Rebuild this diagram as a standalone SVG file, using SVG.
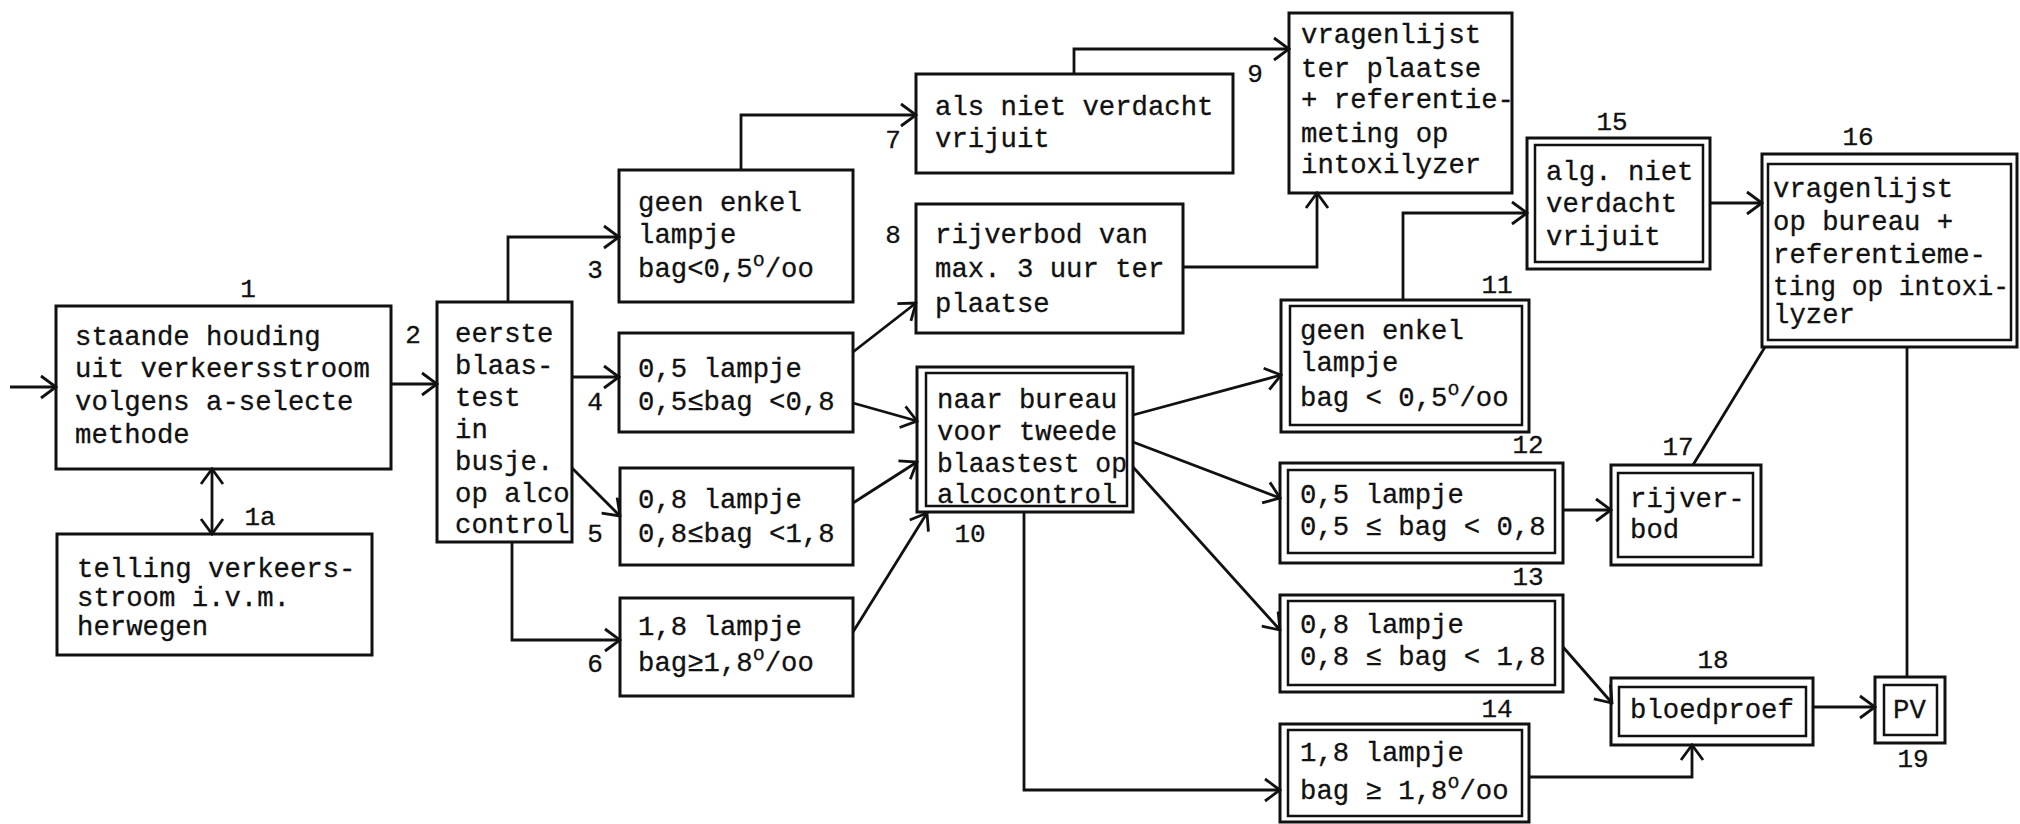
<svg xmlns="http://www.w3.org/2000/svg" width="2020" height="824" viewBox="0 0 2020 824">
<defs>
<style>
.bx{fill:#fff;stroke:#111;stroke-width:3}
.in{fill:none;stroke:#111;stroke-width:2.5}
.t{font-family:"Liberation Mono","Courier New",monospace;font-size:27.3px;fill:#111;stroke:#111;stroke-width:0.3}
.n{font-family:"Liberation Mono","Courier New",monospace;font-size:26px;fill:#111;text-anchor:middle;stroke:#111;stroke-width:0.3}
.c{fill:none;stroke:#111;stroke-width:2.8;marker-end:url(#ah)}
.l{fill:none;stroke:#111;stroke-width:2.8}
</style>
<marker id="ah" viewBox="-18 -13 20 26" refX="0" refY="0" markerWidth="20" markerHeight="26" markerUnits="userSpaceOnUse" orient="auto-start-reverse">
<path d="M-15,-11 L0,0 L-15,11" fill="none" stroke="#111" stroke-width="2.8"/>
</marker>
</defs>
<rect width="2020" height="824" fill="#fff"/>

<g id="n1">
<rect class="bx" x="56" y="306" width="335" height="163"/>
<text class="n" x="248" y="297">1</text>
<text class="t" x="75" y="345">staande houding</text>
<text class="t" x="75" y="377">uit verkeersstroom</text>
<text class="t" x="75" y="410">volgens a-selecte</text>
<text class="t" x="75" y="443">methode</text>
</g>
<g id="n1a">
<rect class="bx" x="57" y="534" width="315" height="121"/>
<text class="n" x="260" y="525">1a</text>
<text class="t" x="77" y="577">telling verkeers-</text>
<text class="t" x="77" y="606">stroom i.v.m.</text>
<text class="t" x="77" y="635">herwegen</text>
</g>
<g id="n2">
<rect class="bx" x="437" y="302" width="135" height="240"/>
<text class="n" x="413" y="343">2</text>
<text class="t" x="455" y="342">eerste</text>
<text class="t" x="455" y="374">blaas-</text>
<text class="t" x="455" y="406">test</text>
<text class="t" x="455" y="438">in</text>
<text class="t" x="455" y="470">busje.</text>
<text class="t" x="455" y="502">op alco</text>
<text class="t" x="455" y="533">control</text>
</g>
<g id="n3">
<rect class="bx" x="619" y="170" width="234" height="132"/>
<text class="n" x="595" y="278">3</text>
<text class="t" x="638" y="211">geen enkel</text>
<text class="t" x="638" y="243">lampje</text>
<text class="t" x="638" y="277">bag&lt;0,5<tspan dy="-11" font-size="20">o</tspan><tspan dy="11">/oo</tspan></text>
</g>
<g id="n4">
<rect class="bx" x="619" y="333" width="234" height="99"/>
<text class="n" x="595" y="410">4</text>
<text class="t" x="638" y="377">0,5 lampje</text>
<text class="t" x="638" y="410">0,5≤bag &lt;0,8</text>
</g>
<g id="n5">
<rect class="bx" x="620" y="468" width="233" height="97"/>
<text class="n" x="595" y="542">5</text>
<text class="t" x="638" y="508">0,8 lampje</text>
<text class="t" x="638" y="542">0,8≤bag &lt;1,8</text>
</g>
<g id="n6">
<rect class="bx" x="620" y="598" width="233" height="98"/>
<text class="n" x="595" y="672">6</text>
<text class="t" x="638" y="635">1,8 lampje</text>
<text class="t" x="638" y="671">bag≥1,8<tspan dy="-11" font-size="20">o</tspan><tspan dy="11">/oo</tspan></text>
</g>
<g id="n7">
<rect class="bx" x="916" y="74" width="317" height="99"/>
<text class="n" x="893" y="148">7</text>
<text class="t" x="935" y="115">als niet verdacht</text>
<text class="t" x="935" y="147">vrijuit</text>
</g>
<g id="n8">
<rect class="bx" x="916" y="204" width="267" height="129"/>
<text class="n" x="893" y="243">8</text>
<text class="t" x="935" y="243">rijverbod van</text>
<text class="t" x="935" y="277">max. 3 uur ter</text>
<text class="t" x="935" y="312">plaatse</text>
</g>
<g id="n9">
<rect class="bx" x="1289" y="13" width="223" height="180"/>
<text class="n" x="1255" y="82">9</text>
<text class="t" x="1301" y="43">vragenlijst</text>
<text class="t" x="1301" y="77">ter plaatse</text>
<text class="t" x="1301" y="108">+ referentie-</text>
<text class="t" x="1301" y="142">meting op</text>
<text class="t" x="1301" y="173">intoxilyzer</text>
</g>
<g id="n10">
<rect class="bx" x="917" y="367" width="216" height="145"/>
<rect class="in" x="926" y="373" width="201" height="133"/>
<text class="n" x="970" y="542">10</text>
<text class="t" x="937" y="408">naar bureau</text>
<text class="t" x="937" y="440">voor tweede</text>
<text class="t" x="937" y="472" textLength="190" lengthAdjust="spacingAndGlyphs">blaastest op</text>
<text class="t" x="937" y="503">alcocontrol</text>
</g>
<g id="n11">
<rect class="bx" x="1281" y="300" width="248" height="132"/>
<rect class="in" x="1290" y="306" width="232" height="119"/>
<text class="n" x="1497" y="293">11</text>
<text class="t" x="1300" y="339">geen enkel</text>
<text class="t" x="1300" y="371">lampje</text>
<text class="t" x="1300" y="406">bag &lt; 0,5<tspan dy="-11" font-size="20">o</tspan><tspan dy="11">/oo</tspan></text>
</g>
<g id="n12">
<rect class="bx" x="1280" y="463" width="283" height="100"/>
<rect class="in" x="1288" y="470" width="267" height="83"/>
<text class="n" x="1528" y="453">12</text>
<text class="t" x="1300" y="503">0,5 lampje</text>
<text class="t" x="1300" y="535">0,5 ≤ bag &lt; 0,8</text>
</g>
<g id="n13">
<rect class="bx" x="1280" y="595" width="283" height="97"/>
<rect class="in" x="1288" y="601" width="267" height="84"/>
<text class="n" x="1528" y="585">13</text>
<text class="t" x="1300" y="633">0,8 lampje</text>
<text class="t" x="1300" y="665">0,8 ≤ bag &lt; 1,8</text>
</g>
<g id="n14">
<rect class="bx" x="1280" y="724" width="249" height="98"/>
<rect class="in" x="1288" y="730" width="234" height="86"/>
<text class="n" x="1497" y="717">14</text>
<text class="t" x="1300" y="761">1,8 lampje</text>
<text class="t" x="1300" y="799">bag ≥ 1,8<tspan dy="-11" font-size="20">o</tspan><tspan dy="11">/oo</tspan></text>
</g>
<g id="n15">
<rect class="bx" x="1527" y="138" width="183" height="131"/>
<rect class="in" x="1535" y="145" width="168" height="117"/>
<text class="n" x="1612" y="130">15</text>
<text class="t" x="1546" y="180">alg. niet</text>
<text class="t" x="1546" y="212">verdacht</text>
<text class="t" x="1546" y="245">vrijuit</text>
</g>
<g id="n16">
<rect class="bx" x="1762" y="154" width="255" height="193"/>
<rect class="in" x="1768" y="164" width="243" height="176"/>
<text class="n" x="1858" y="145">16</text>
<text class="t" x="1773" y="197">vragenlijst</text>
<text class="t" x="1773" y="230">op bureau +</text>
<text class="t" x="1773" y="263">referentieme-</text>
<text class="t" x="1773" y="295" textLength="236" lengthAdjust="spacingAndGlyphs">ting op intoxi-</text>
<text class="t" x="1773" y="323">lyzer</text>
</g>
<g id="n17">
<rect class="bx" x="1611" y="465" width="150" height="100"/>
<rect class="in" x="1618" y="473" width="135" height="84"/>
<text class="n" x="1678" y="455">17</text>
<text class="t" x="1630" y="507">rijver-</text>
<text class="t" x="1630" y="538">bod</text>
</g>
<g id="n18">
<rect class="bx" x="1611" y="678" width="202" height="67"/>
<rect class="in" x="1619" y="687" width="187" height="49"/>
<text class="n" x="1713" y="668">18</text>
<text class="t" x="1630" y="718">bloedproef</text>
</g>
<g id="n19">
<rect class="bx" x="1875" y="677" width="70" height="66"/>
<rect class="in" x="1884" y="685" width="53" height="50"/>
<text class="n" x="1913" y="767">19</text>
<text class="t" x="1893" y="718">PV</text>
</g>

<g id="connectors">
<path class="c" d="M10,387 H56"/>
<path class="c" d="M391,384 H437"/>
<path class="c" d="M212,469 V534" marker-start="url(#ah)"/>
<path class="c" d="M508,302 V237 H619"/>
<path class="c" d="M572,377 H619"/>
<path class="c" d="M572,468 L620,516"/>
<path class="c" d="M512,542 V640 H620"/>
<path class="c" d="M741,170 V115 H916"/>
<path class="c" d="M853,352 L916,303"/>
<path class="c" d="M853,403 L917,421"/>
<path class="c" d="M853,503 L917,462"/>
<path class="c" d="M853,632 L927,513"/>
<path class="c" d="M1074,74 V49 H1289"/>
<path class="c" d="M1183,267 H1317 V193"/>
<path class="c" d="M1133,415 L1281,375"/>
<path class="c" d="M1133,442 L1280,498"/>
<path class="c" d="M1133,467 L1280,630"/>
<path class="c" d="M1024,512 V790 H1280"/>
<path class="c" d="M1403,300 V213 H1527"/>
<path class="c" d="M1710,203 H1762"/>
<path class="l" d="M1765,347 L1693,465"/>
<path class="l" d="M1907,347 V677"/>
<path class="c" d="M1563,510 H1611"/>
<path class="c" d="M1563,647 L1612,703"/>
<path class="c" d="M1529,777 H1692 V745"/>
<path class="c" d="M1813,707 H1875"/>
</g>
</svg>
